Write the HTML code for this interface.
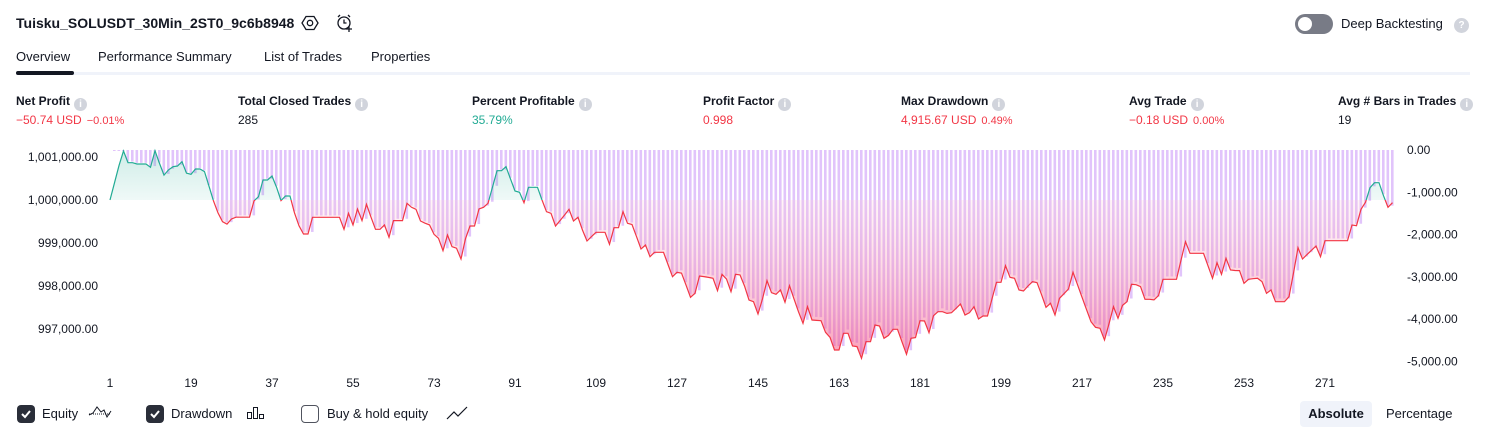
<!DOCTYPE html>
<html><head><meta charset="utf-8">
<style>
*{margin:0;padding:0;box-sizing:border-box}
body{width:1486px;height:438px;background:#fff;font-family:"Liberation Sans",sans-serif;color:#131722;position:relative;overflow:hidden}
.a{position:absolute;white-space:nowrap}
.lbl{font-size:12px;font-weight:bold;top:94px}
.val{font-size:12px;top:113px}
.info{display:inline-block;width:13px;height:13px;border-radius:50%;background:#d1d4dc;color:#fff;font-size:10px;text-align:center;line-height:13px;margin-left:4px;vertical-align:-2px;font-weight:bold}
.red{color:#f23645}.grn{color:#22ab94}
.pct{font-size:11px;margin-left:5px}
.tab{font-size:13px;top:49px}
.cb{width:18px;height:18px;border-radius:4px;top:405px}
</style></head><body>
<div class="a" style="left:16px;top:15px;font-size:14px;font-weight:bold">Tuisku_SOLUSDT_30Min_2ST0_9c6b8948</div>
<svg class="a" style="left:301px;top:14px" width="18" height="18" viewBox="0 0 18 18"><polygon points="5,2.5 13,2.5 17,9 13,15.5 5,15.5 1,9" fill="none" stroke="#131722" stroke-width="1.3"/><circle cx="9" cy="9" r="2.7" fill="none" stroke="#131722" stroke-width="1.3"/></svg>
<svg class="a" style="left:335px;top:13px" width="20" height="20" viewBox="0 0 20 20"><circle cx="9" cy="10" r="6" fill="none" stroke="#131722" stroke-width="1.3"/><path d="M9 6.5V10h2.5M3 4l2-2M15 4l-2-2M14 13v6M11 16h6" fill="none" stroke="#131722" stroke-width="1.3"/></svg>
<div class="a" style="left:1295px;top:14px;width:38px;height:20px;border-radius:10px;background:#787b86"><div style="position:absolute;left:3px;top:3px;width:14px;height:14px;border-radius:50%;background:#fff"></div></div>
<div class="a" style="left:1341px;top:16px;font-size:13px">Deep Backtesting</div>
<div class="a info" style="left:1450px;top:18px;width:15px;height:15px;line-height:15px">?</div>

<div class="a tab" style="left:16px">Overview</div>
<div class="a tab" style="left:98px">Performance Summary</div>
<div class="a tab" style="left:264px">List of Trades</div>
<div class="a tab" style="left:371px">Properties</div>
<div class="a" style="left:16px;top:72px;width:1454px;height:3px;background:#f0f3fa"></div>
<div class="a" style="left:16px;top:71px;width:58px;height:4px;border-radius:2px;background:#131722"></div>

<div class="a lbl" style="left:16px">Net Profit<span class="info">i</span></div>
<div class="a val red" style="left:16px">−50.74 USD<span class="pct">−0.01%</span></div>
<div class="a lbl" style="left:238px">Total Closed Trades<span class="info">i</span></div>
<div class="a val" style="left:238px">285</div>
<div class="a lbl" style="left:472px">Percent Profitable<span class="info">i</span></div>
<div class="a val grn" style="left:472px">35.79%</div>
<div class="a lbl" style="left:703px">Profit Factor<span class="info">i</span></div>
<div class="a val red" style="left:703px">0.998</div>
<div class="a lbl" style="left:901px">Max Drawdown<span class="info">i</span></div>
<div class="a val red" style="left:901px">4,915.67 USD<span class="pct">0.49%</span></div>
<div class="a lbl" style="left:1129px">Avg Trade<span class="info">i</span></div>
<div class="a val red" style="left:1129px">−0.18 USD<span class="pct">0.00%</span></div>
<div class="a lbl" style="left:1338px">Avg # Bars in Trades<span class="info">i</span></div>
<div class="a val" style="left:1338px">19</div>

<svg id="chart" class="a" style="left:0;top:0" width="1486" height="438">
<defs>
<linearGradient id="gRed" gradientUnits="userSpaceOnUse" x1="0" y1="200" x2="0" y2="362"><stop offset="0" stop-color="#ffc9d6" stop-opacity="0.2"/><stop offset="1" stop-color="#f2366e" stop-opacity="0.5"/></linearGradient>
<linearGradient id="gGrn" gradientUnits="userSpaceOnUse" x1="0" y1="150" x2="0" y2="200"><stop offset="0" stop-color="#22ab94" stop-opacity="0.22"/><stop offset="1" stop-color="#22ab94" stop-opacity="0.07"/></linearGradient>
<clipPath id="cAbove"><rect x="0" y="0" width="1486" height="200"/></clipPath>
<clipPath id="cBelow"><rect x="0" y="200" width="1486" height="238"/></clipPath>
</defs>
</svg>

<div class="a cb" style="left:17px;background:#2a2e39"><svg width="18" height="18"><path d="M5 9l3 3 5-6" fill="none" stroke="#fff" stroke-width="2"/></svg></div>
<div class="a" style="left:42px;top:406px;font-size:13px">Equity</div>
<svg class="a" style="left:88px;top:405px" width="24" height="16"><path d="M1 10l4-2 4-6 4 5 3-2 3 7 4-6" fill="none" stroke="#131722" stroke-width="1"/><path d="M1 9h22" stroke="#131722" stroke-dasharray="1 1"/></svg>
<div class="a cb" style="left:146px;background:#2a2e39"><svg width="18" height="18"><path d="M5 9l3 3 5-6" fill="none" stroke="#fff" stroke-width="2"/></svg></div>
<div class="a" style="left:171px;top:406px;font-size:13px">Drawdown</div>
<svg class="a" style="left:246px;top:406px" width="20" height="14"><rect x="1.5" y="6.5" width="4" height="6" fill="none" stroke="#131722"/><rect x="7.5" y="1.5" width="4" height="11" fill="none" stroke="#131722"/><rect x="13.5" y="8.5" width="4" height="4" fill="none" stroke="#131722"/></svg>
<div class="a cb" style="left:301px;border:1px solid #50535e;background:#fff"></div>
<div class="a" style="left:327px;top:406px;font-size:13px">Buy &amp; hold equity</div>
<svg class="a" style="left:446px;top:405px" width="22" height="16"><path d="M1 14l7-7 4 4 9-9" fill="none" stroke="#131722" stroke-width="1.2"/></svg>
<div class="a" style="left:1300px;top:401px;width:72px;height:26px;border-radius:4px;background:#f0f3fa;font-size:13px;font-weight:bold;text-align:center;line-height:26px">Absolute</div>
<div class="a" style="left:1386px;top:406px;font-size:13px">Percentage</div>

<script>
const initialCapital = 1000000;
const netProfit = [0,400,800,1140,870,867,837,837,837,760,1146,850,580,700,775,790,890,625,597,720,720,660,320,-20,-300,-505,-560,-443,-400,-400,
-400,-400,-20,77,465,465,558,300,-15,93,93,-300,-600,-791,-791,-402,-402,-402,-402,-402,-402,-402,-682,-310,-581,-210,-480,-100,-400,-682,
-682,-581,-868,-480,-480,-480,-77,-170,-216,-488,-540,-580,-798,-891,-1179,-814,-1085,-1120,-1372,-900,-605,-605,-210,-170,-77,300,682,682,775,490,
209,180,-62,295,295,295,0,-272,-310,-605,-480,-350,-216,-488,-402,-700,-953,-850,-751,-751,-751,-1030,-644,-644,-272,-542,-570,-850,-1140,-1047,
-1318,-1216,-1216,-1216,-1500,-1784,-1682,-1700,-1980,-2263,-2170,-1767,-1782,-1800,-1820,-2109,-1728,-1840,-2132,-1728,-1743,-2000,-2326,-2364,-2651,-2300,-1877,-2156,-2194,-2093,
-2379,-1993,-2300,-2600,-2867,-2481,-2791,-2800,-2806,-3077,-3193,-3488,-3488,-3100,-3100,-3395,-3410,-3682,-3295,-3295,-2907,-2930,-3216,-3150,-3007,-3007,-3300,-3588,-3216,-3200,
-2807,-2815,-3086,-2691,-2598,-2598,-2637,-2622,-2520,-2419,-2674,-2622,-2481,-2767,-2698,-2698,-2300,-1914,-1914,-1528,-1798,-1820,-2093,-2116,-2000,-1899,-1922,-2200,-2495,-2402,
-2674,-2286,-2180,-2070,-1682,-1970,-2260,-2550,-2830,-2960,-2984,-3256,-2880,-2481,-2751,-2450,-2365,-1961,-1970,-2015,-2309,-2309,-2324,-2224,-1844,-1844,-1844,-1844,-1400,-969,
-1240,-1240,-1240,-1240,-1530,-1821,-1458,-1728,-1356,-1628,-1640,-1643,-1937,-1844,-1830,-1821,-1898,-2170,-2093,-2365,-2365,-2365,-2248,-1700,-1109,-1372,-1270,-1170,-1070,-1318,
-946,-946,-946,-946,-946,-946,-581,-597,-216,-53,287,403,403,100,-170,-62];
const xTickLabels = ["1","19","37","55","73","91","109","127","145","163","181","199","217","235","253","271"];
const leftTicks = [1001000,1000000,999000,998000,997000];
const rightTicks = [0,-1000,-2000,-3000,-4000,-5000];

const svg = document.getElementById('chart');
const NS = 'http://www.w3.org/2000/svg';
const X0 = 110, DX = 4.5;
const xS = i => X0 + i * DX;
const yL = v => 200 - (v - initialCapital) * 0.043;
const yR = d => 150 - d * 0.0423;
function mk(tag, attrs, parent){const e=document.createElementNS(NS,tag);for(const k in attrs)e.setAttribute(k,attrs[k]);(parent||svg).appendChild(e);return e;}

const eq = netProfit.map(v => initialCapital + v);
let peak = eq[0];
const gBars = mk('g',{});


for (let i = 1; i < eq.length; i++) {
  peak = Math.max(peak, eq[i-1]);
  const low = Math.min(eq[i], eq[i-1]);
  const dd = -Math.max(0, peak - low);
  const r = mk('rect',{x:xS(i)-1.5, y:150, width:2.6, height:Math.max(1, yR(dd)-150), fill:'#e1c4fb'}, gBars);
  
  
  peak = Math.max(peak, eq[i]);
}

let pts = eq.map((v,i)=>xS(i).toFixed(1)+','+yL(v).toFixed(1)).join(' ');
const area = 'M'+xS(0)+','+yL(initialCapital)+' L'+pts.split(' ').join(' L')+' L'+xS(eq.length-1)+','+yL(initialCapital)+' Z';
const fr = mk('path',{d:area, fill:'url(#gRed)', 'clip-path':'url(#cBelow)'});


const fg = mk('path',{d:area, fill:'url(#gGrn)', 'clip-path':'url(#cAbove)'});


const lg = mk('polyline',{points:pts, fill:'none', stroke:'#22ab94', 'stroke-width':1.2, 'clip-path':'url(#cAbove)'});


const lr = mk('polyline',{points:pts, fill:'none', stroke:'#f23645', 'stroke-width':1.2, 'clip-path':'url(#cBelow)'});



leftTicks.forEach(v=>{
  const t = mk('text',{x:98, y:yL(v)+4, 'text-anchor':'end', 'font-size':12, fill:'#131722', 'font-family':'Liberation Sans, sans-serif'});
  t.textContent = v.toLocaleString('en-US')+'.00';
  
  
});
rightTicks.forEach(d=>{
  const t = mk('text',{x:1407, y:yR(d)+4, 'font-size':12, fill:'#131722', 'font-family':'Liberation Sans, sans-serif'});
  t.textContent = (d===0?'0':d.toLocaleString('en-US'))+'.00';
  
  
});
xTickLabels.forEach(s=>{
  const t = mk('text',{x:xS(+s-1), y:387, 'text-anchor':'middle', 'font-size':12, fill:'#131722', 'font-family':'Liberation Sans, sans-serif'});
  t.textContent = s;
  
  
});
</script>
</body></html>
